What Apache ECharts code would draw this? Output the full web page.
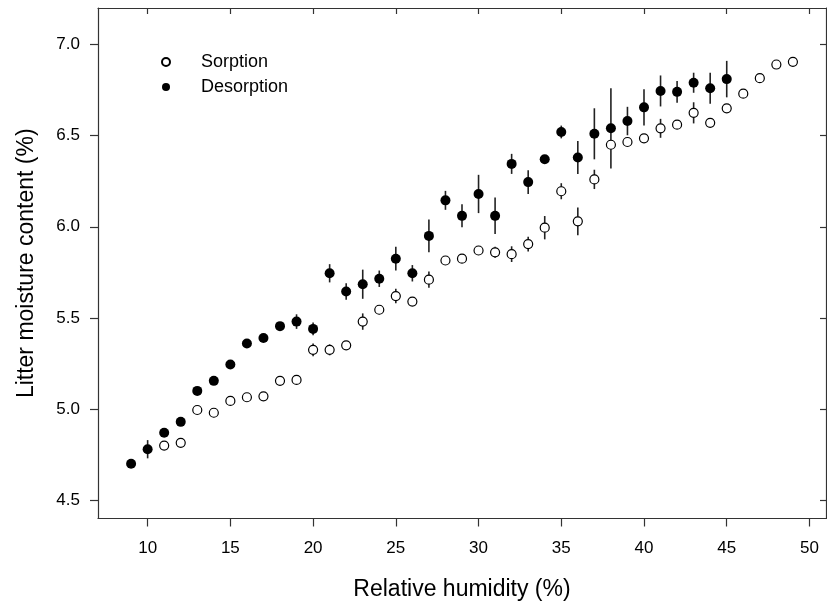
<!DOCTYPE html>
<html>
<head>
<meta charset="utf-8">
<script src="https://cdn.jsdelivr.net/npm/echarts@6/dist/echarts.min.js"></script>
<style>
html,body{margin:0;padding:0;background:#fff;}
#chart{width:827px;height:607px;}
</style>
</head>
<body>
<div id="chart"></div>
<script>
// ---- Data ----
var desorptionRH   = [9,10,11,12,13,14,15,16,17,18,19,20,21,22,23,24,25,26,27,28,29,30,31,32,33,34,35,36,37,38,39,40,41,42,43,44,45];
var desorptionMean = [4.70,4.78,4.87,4.93,5.10,5.155,5.245,5.36,5.39,5.455,5.48,5.44,5.745,5.645,5.685,5.715,5.825,5.745,5.95,6.145,6.06,6.18,6.06,6.345,6.245,6.37,6.52,6.38,6.51,6.54,6.58,6.655,6.745,6.74,6.79,6.76,6.81];
var desorptionErr  = [0.01,0.05,0.02,0.02,0.02,0.02,0.015,0.015,0.015,0.02,0.04,0.035,0.05,0.045,0.08,0.045,0.065,0.045,0.09,0.052,0.063,0.105,0.10,0.055,0.065,0.02,0.035,0.09,0.14,0.22,0.078,0.10,0.085,0.06,0.055,0.085,0.10];

var sorptionRH   = [11,12,13,14,15,16,17,18,19,20,21,22,23,24,25,26,27,28,29,30,31,32,33,34,35,36,37,38,39,40,41,42,43,44,45,46,47,48,49];
var sorptionMean = [4.80,4.815,4.995,4.98,5.045,5.065,5.07,5.155,5.16,5.325,5.325,5.35,5.48,5.545,5.62,5.59,5.71,5.815,5.825,5.87,5.86,5.85,5.905,5.995,6.195,6.03,6.26,6.45,6.465,6.485,6.54,6.56,6.625,6.57,6.65,6.73,6.815,6.89,6.905];
var sorptionErr  = [0.02,0.02,0.02,0.025,0.015,0.02,0.015,0.015,0.015,0.035,0.03,0.015,0.045,0.025,0.04,0.02,0.045,0.015,0.015,0.025,0.03,0.043,0.04,0.064,0.044,0.076,0.053,0.02,0.02,0.015,0.052,0.02,0.058,0.02,0.02,0.015,0.015,0.015,0.015];

var xTicks = [10,15,20,25,30,35,40,45,50];
var yTicks = [4.5,5.0,5.5,6.0,6.5,7.0];
var xTitle = 'Relative humidity (%)';
var yTitle = 'Litter moisture content (%)';
var seriesNames = ['Sorption','Desorption'];

// ---- Build ----
function pts(xs, ms) { return xs.map(function (x, i) { return [x, ms[i]]; }); }
function errs(xs, ms, es) { return xs.map(function (x, i) { return [x, ms[i], es[i]]; }); }

function errRender(params, api) {
  var x = api.value(0), m = api.value(1), e = api.value(2);
  var p1 = api.coord([x, m - e]);
  var p2 = api.coord([x, m + e]);
  return {
    type: 'line',
    shape: { x1: p1[0], y1: p1[1], x2: p2[0], y2: p2[1] },
    style: { stroke: '#222', lineWidth: 1.6 }
  };
}

var FONT = 'Liberation Sans, Arial, sans-serif';
var axisCol = '#333';

var chart = echarts.init(document.getElementById('chart'), null, { renderer: 'canvas' });
chart.setOption({
  backgroundColor: '#fff',
  animation: false,
  textStyle: { fontFamily: FONT },
  grid: { left: 98, right: 1, top: 8, bottom: 88.5, containLabel: false },
  legend: {
    orient: 'vertical',
    left: 161, top: 52, padding: 0,
    itemWidth: 8, itemHeight: 8, itemGap: 5,
    icon: 'circle',
    data: seriesNames,
    textStyle: { fontFamily: FONT, fontSize: 18, color: '#000', lineHeight: 20, padding: [0, 0, 0, 26] }
  },
  xAxis: [{
    type: 'value', min: 7, max: 51, position: 'bottom',
    name: xTitle, nameLocation: 'middle', nameGap: 60,
    nameTextStyle: { fontFamily: FONT, fontSize: 23, color: '#000' },
    axisLine: { show: true, onZero: false, lineStyle: { color: axisCol, width: 1.2 } },
    axisTick: { show: true, inside: false, length: 8, customValues: xTicks, lineStyle: { color: axisCol, width: 1.2 } },
    axisLabel: { show: true, margin: 21, customValues: xTicks, fontFamily: FONT, fontSize: 17, color: '#000' },
    splitLine: { show: false }
  }, {
    type: 'value', min: 7, max: 51, position: 'top',
    axisLine: { show: true, onZero: false, lineStyle: { color: axisCol, width: 1.2 } },
    axisTick: { show: true, inside: true, length: 6, customValues: xTicks, lineStyle: { color: axisCol, width: 1.2 } },
    axisLabel: { show: false },
    splitLine: { show: false }
  }],
  yAxis: [{
    type: 'value', min: 4.4, max: 7.2, position: 'left',
    name: yTitle, nameLocation: 'middle', nameGap: 60,
    nameTextStyle: { fontFamily: FONT, fontSize: 23, color: '#000' },
    axisLine: { show: true, onZero: false, lineStyle: { color: axisCol, width: 1.2 } },
    axisTick: { show: true, inside: false, length: 8, customValues: yTicks, lineStyle: { color: axisCol, width: 1.2 } },
    axisLabel: { show: true, margin: 18, customValues: yTicks, fontFamily: FONT, fontSize: 17, color: '#000',
      formatter: function (v) { return v.toFixed(1); } },
    splitLine: { show: false }
  }, {
    type: 'value', min: 4.4, max: 7.2, position: 'right',
    axisLine: { show: true, onZero: false, lineStyle: { color: axisCol, width: 1.2 } },
    axisTick: { show: true, inside: true, length: 6, customValues: yTicks, lineStyle: { color: axisCol, width: 1.2 } },
    axisLabel: { show: false },
    splitLine: { show: false }
  }],
  series: [
    { name: 'desErr', type: 'custom', xAxisIndex: 0, yAxisIndex: 0, renderItem: errRender,
      data: errs(desorptionRH, desorptionMean, desorptionErr), encode: { x: 0, y: 1 }, z: 1, silent: true },
    { name: 'sorErr', type: 'custom', xAxisIndex: 0, yAxisIndex: 0, renderItem: errRender,
      data: errs(sorptionRH, sorptionMean, sorptionErr), encode: { x: 0, y: 1 }, z: 1, silent: true },
    { name: seriesNames[0], type: 'scatter', xAxisIndex: 0, yAxisIndex: 0, symbol: 'circle', symbolSize: 9,
      itemStyle: { color: '#fff', borderColor: '#000', borderWidth: 1.2, opacity: 1 },
      data: pts(sorptionRH, sorptionMean), z: 3 },
    { name: seriesNames[1], type: 'scatter', xAxisIndex: 0, yAxisIndex: 0, symbol: 'circle', symbolSize: 10,
      itemStyle: { color: '#000', borderColor: '#000', borderWidth: 0, opacity: 1 },
      data: pts(desorptionRH, desorptionMean), z: 4 }
  ]
});
</script>
</body>
</html>
